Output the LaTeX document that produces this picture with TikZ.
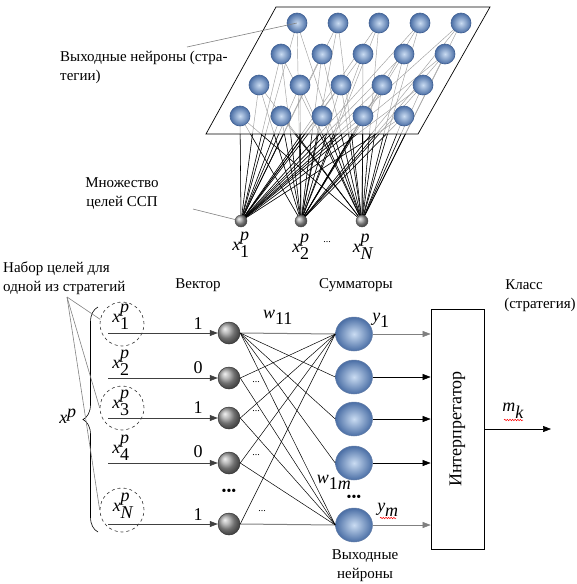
\documentclass[tikz,border=0pt]{standalone}
\usepackage{fontspec}
\setmainfont{Liberation Serif}
\newfontfamily\tnr{Liberation Serif}
\usetikzlibrary{arrows.meta,decorations.pathreplacing,decorations.pathmorphing,shapes.geometric,backgrounds}
\definecolor{bluein}{HTML}{CADCF2}
\definecolor{blueout}{HTML}{4A6EA5}
\definecolor{blueedge}{HTML}{3F5F92}
\newcommand{\xlab}[1]{$\textit{x}^{\textit{p}}_{#1}$}
\begin{document}
\begin{tikzpicture}[x=1pt,y=-1pt,
  txt/.style={inner sep=0pt, font=\tnr\fontsize{15}{19}\selectfont},
  mlab/.style={inner sep=0pt, font=\tnr\fontsize{18}{18}\selectfont},
  gnode/.style={circle, minimum size=20pt, inner sep=0pt, draw=blueedge, line width=0.6pt, inner color=bluein, outer color=blueout},
  bignode/.style={ellipse, minimum width=37pt, minimum height=34pt, inner sep=0pt, draw=blueedge!80, line width=0.5pt, inner color=bluein, outer color=blueout},
  tnode/.style={circle, minimum size=12pt, inner sep=0pt, draw=black!70, line width=0.4pt, ball color=gray!75},
  snode/.style={circle, minimum size=22pt, inner sep=0pt, draw=black!80, line width=0.5pt, ball color=gray!75},
  dcirc/.style={circle, minimum size=44pt, inner sep=0pt, draw=black!80, dashed, line width=0.6pt},
  arr/.style={-{Triangle[length=8pt,width=6pt]}, line width=0.6pt},
  lead/.style={draw=gray, line width=0.6pt},
  dots/.style={inner sep=0pt, font=\tnr\fontsize{10}{10}\selectfont},
  squig/.style={red, line width=0.5pt, decorate, decoration={snake, amplitude=0.7pt, segment length=2.6pt}}
]
\useasboundingbox (0,0) rectangle (577,584);

% ---------- upper part ----------
\draw[line width=0.7pt] (276,7) -- (490,7) -- (418,134) -- (206,134) -- cycle;

\foreach \r/\yy/\xs in {1/23/297, 2/54/281, 3/85/259, 4/116/240} {
  \foreach \c in {1,...,5} {
    \pgfmathsetmacro\xx{\xs+41*(\c-1)}
    \node[gnode] (g\r\c) at (\xx,\yy) {};
  }
}
\node[tnode] (b1) at (241,221) {};
\node[tnode] (b2) at (301,221) {};
\node[tnode] (bN) at (362,221) {};

\begin{pgfonlayer}{background}
  \foreach \b in {b1,b2,bN} {
    \foreach \r in {1,...,4} {
      \foreach \c in {1,...,5} {
        \draw[gray!75, line width=0.45pt] (\b.center) -- (g\r\c.center);
      }
    }
  }
  \begin{scope}
    \clip (0,134.5) rectangle (577,230);
    \foreach \b in {b1,b2,bN} {
      \foreach \r in {1,...,4} {
        \foreach \c in {1,...,5} {
          \draw[black, line width=0.55pt] (\b.center) -- (g\r\c.center);
        }
      }
    }
  \end{scope}
\end{pgfonlayer}

\node[txt, anchor=west, align=left] (tout) at (60,67) {Выходные нейроны (стра-\\тегии)};
\coordinate (l1) at (187,47);
\draw[lead] (l1) -- (g11.center);

\node[txt, align=center] (tset) at (122,194) {Множество\\целей ССП};
\coordinate (l2) at (193,209);
\draw[lead] (l2) -- (b1);

\node[mlab] (xb1) at (241,245) {\xlab{\textrm{1}}};
\node[mlab] (xb2) at (301,247) {\xlab{\textrm{2}}};
\node[dots] (xbd) at (327,242) {...};
\node[mlab] (xbN) at (363,247) {\xlab{\textit{N}}};

% ---------- lower part ----------
\node[txt, anchor=west, align=left] (tnab) at (3,278) {Набор целей для\\одной из стратегий};
\node[txt] (tvec) at (198,285) {Вектор};
\node[txt] (tsum) at (356,285) {Сумматоры};
\node[txt] (tcl1) at (524,285) {Класс};
\node[txt] (tcl2) at (540,305) {(стратегия)};
\node[txt, align=center] (tvyh) at (365,566) {Выходные\\нейроны};

\foreach \i/\yy in {1/333, 2/378, 3/418, 4/463, 5/524} {
  \node[snode] (s\i) at (229,\yy) {};
  \coordinate (in\i) at (108,\yy);
}
\foreach \i/\yy in {1/334, 2/377, 3/419, 4/463, 5/525} {
  \node[bignode] (B\i) at (354,\yy) {};
}

\node[dcirc] (c1) at (122,324) {};
\node[dcirc] (c3) at (122,408) {};
\node[dcirc] (cN) at (122,510) {};

\node[mlab] (x1) at (121,317) {\xlab{\textrm{1}}};
\node[mlab] (x2) at (121,363) {\xlab{\textrm{2}}};
\node[mlab] (x3) at (121,403) {\xlab{\textrm{3}}};
\node[mlab] (x4) at (121,448) {\xlab{\textrm{4}}};
\node[mlab] (xN) at (123,506) {\xlab{\textit{N}}};

\foreach \i/\v/\yy in {1/1/324, 2/0/368, 3/1/408, 4/0/452, 5/1/515} {
  \draw[arr, draw=black!75] (in\i) -- (s\i.west);
  \node[mlab] (v\i) at (198,\yy) {\v};
}

% connections
\draw[gray, line width=1pt] (s1.east) -- (B1.west);
\draw[gray, line width=1pt] (s5.east) -- (B5.west);
\foreach \j in {2,...,5} { \draw[line width=0.5pt] (s1.east) -- (B\j.west); }
\foreach \i in {2,...,5} { \draw[line width=0.5pt] (s\i.east) -- (B1.west); }
\foreach \i in {2,...,4} { \draw[line width=0.5pt] (s\i.east) -- (B5.west); }

\node[dots] (d2) at (256,382) {...};
\node[dots] (d3) at (256,411) {...};
\node[dots] (d4) at (256,455) {...};
\node[dots] (d5) at (262,511) {...};
\node[inner sep=0pt, font=\tnr\fontsize{14}{14}\selectfont] (bd1) at (229,492) {•••};
\node[inner sep=0pt, font=\tnr\fontsize{14}{14}\selectfont] (bd2) at (354,498) {•••};

\node[mlab] (w11) at (278,317) {$\textit{w}_{\textrm{11}}$};
\node[mlab] (w1m) at (334,482) {$\textit{w}_{\textrm{1}\textit{m}}$};
\node[mlab] (y1) at (381,320) {$\textit{y}_{\textrm{1}}$};
\node[mlab] (ym) at (388,510) {$\textit{y}_{\textit{m}}$};
\draw[squig] (380,518) -- (396,518);

% interpreter
\node[draw, line width=0.7pt, minimum width=53pt, minimum height=240pt, inner sep=0pt, font=\tnr\fontsize{18}{18}\selectfont] (box) at (457.5,429) {\rotatebox{90}{Интерпретатор}};
\draw[arr, draw=gray] (B1.east) -- (box.west |- B1.east);
\foreach \i in {2,...,4} { \draw[arr] (B\i.east) -- (box.west |- B\i.east); }
\draw[arr, draw=gray] (B5.east) -- (box.west |- B5.east);
\coordinate (out) at (551,429);
\draw[arr] (box.east) -- (out);
\node[mlab] (mk) at (513,411) {$\textit{m}_{\textit{k}}$};
\draw[squig] (504,420) -- (523,420);

% brace and leaders
\draw[decorate, decoration={brace, amplitude=15pt}, line width=0.6pt] (98,532) -- (98,307);
\node[mlab] (xp) at (68,416) {$\textit{x}^{\textit{p}}$};
\coordinate (l3) at (67,297);
\draw[lead] (l3) -- (c1.168);
\draw[lead] (l3) -- (c3.180);
\draw[lead] (l3) -- (cN.180);
\end{tikzpicture}
\end{document}
